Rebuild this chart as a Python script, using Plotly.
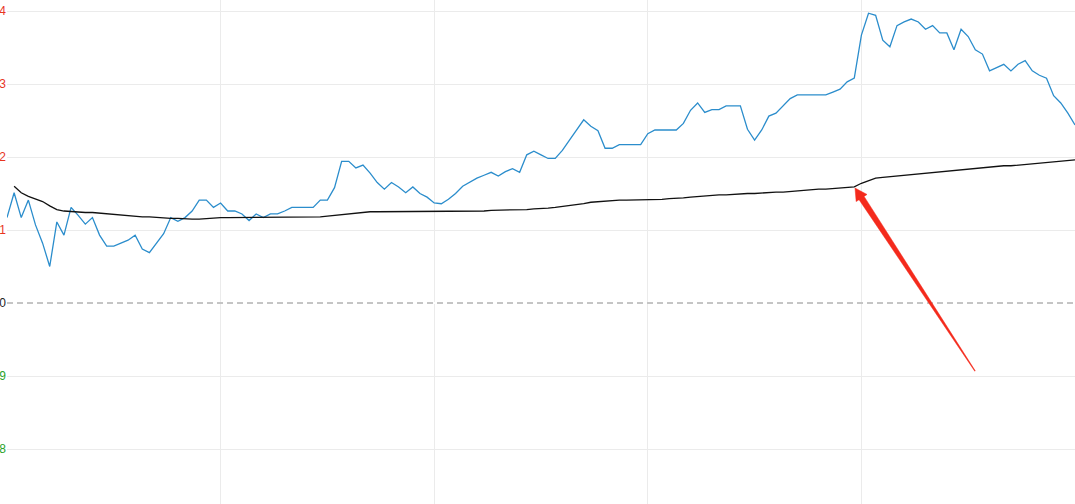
import plotly.graph_objects as go

# ---- data ----
price = [
    10.1117, 10.1151, 10.1117, 10.1141, 10.1107, 10.1082, 10.1050, 10.1111, 10.1093, 10.1131,
    10.1120, 10.1108, 10.1117, 10.1093, 10.1078, 10.1078, 10.1082, 10.1086, 10.1093, 10.1074,
    10.1069, 10.1082, 10.1095, 10.1117, 10.1112, 10.1117, 10.1126, 10.1141, 10.1141, 10.1131,
    10.1137, 10.1126, 10.1126, 10.1122, 10.1113, 10.1122, 10.1117, 10.1122, 10.1122, 10.1126,
    10.1131, 10.1131, 10.1131, 10.1131, 10.1141, 10.1141, 10.1158, 10.1194, 10.1194, 10.1185,
    10.1189, 10.1178, 10.1165, 10.1156, 10.1165, 10.1159, 10.1151, 10.1159, 10.1150, 10.1145,
    10.1137, 10.1136, 10.1142, 10.1150, 10.1160, 10.1166, 10.1171, 10.1175, 10.1179, 10.1174,
    10.1180, 10.1184, 10.1179, 10.1203, 10.1208, 10.1203, 10.1198, 10.1198, 10.1209, 10.1223,
    10.1237, 10.1251, 10.1242, 10.1236, 10.1212, 10.1212, 10.1217, 10.1217, 10.1217, 10.1217,
    10.1232, 10.1237, 10.1237, 10.1237, 10.1237, 10.1246, 10.1264, 10.1274, 10.1261, 10.1265,
    10.1265, 10.1270, 10.1270, 10.1270, 10.1238, 10.1223, 10.1237, 10.1256, 10.1260, 10.1270,
    10.1280, 10.1285, 10.1285, 10.1285, 10.1285, 10.1285, 10.1289, 10.1293, 10.1303, 10.1308,
    10.1367, 10.1397, 10.1394, 10.1360, 10.1351, 10.1380, 10.1385, 10.1389, 10.1385, 10.1375,
    10.1380, 10.1370, 10.1370, 10.1347, 10.1375, 10.1365, 10.1347, 10.1341, 10.1318, 10.1322,
    10.1327, 10.1318, 10.1327, 10.1332, 10.1318, 10.1312, 10.1308, 10.1284, 10.1274, 10.1260,
    10.1244,
]

avg_price = [
    None, 10.1160, 10.1151, 10.1146, 10.1142, 10.1139, 10.1133, 10.1128, 10.1126, 10.1125,
    10.1124, 10.1124, 10.1124, 10.1123, 10.1122, 10.1121, 10.1120, 10.1119, 10.1119, 10.1118,
    10.1118, 10.1117, 10.1117, 10.1116, 10.1116, 10.1115, 10.1115, 10.1115, 10.1116, 10.1116,
    10.1117, 10.1117, 10.1117, 10.1117, 10.1117, 10.1117, 10.1117, 10.1117, 10.1117, 10.1117,
    10.1117, 10.1117, 10.1118, 10.1118, 10.1118, 10.1119, 10.1120, 10.1122, 10.1123, 10.1124,
    10.1124, 10.1125, 10.1125, 10.1125, 10.1125, 10.1125, 10.1125, 10.1126, 10.1126, 10.1126,
    10.1126, 10.1126, 10.1126, 10.1126, 10.1126, 10.1126, 10.1126, 10.1126, 10.1127, 10.1127,
    10.1127, 10.1127, 10.1127, 10.1128, 10.1129, 10.1129, 10.1130, 10.1131, 10.1132, 10.1133,
    10.1134, 10.1136, 10.1138, 10.1139, 10.1140, 10.1140, 10.1141, 10.1141, 10.1141, 10.1142,
    10.1142, 10.1142, 10.1142, 10.1143, 10.1143, 10.1144, 10.1145, 10.1146, 10.1147, 10.1147,
    10.1148, 10.1148, 10.1149, 10.1149, 10.1150, 10.1150, 10.1151, 10.1152, 10.1152, 10.1152,
    10.1153, 10.1154, 10.1155, 10.1155, 10.1156, 10.1156, 10.1157, 10.1157, 10.1158, 10.1159,
    10.1164, 10.1168, 10.1171, 10.1172, 10.1173, 10.1174, 10.1174, 10.1175, 10.1176, 10.1178,
    10.1179, 10.1180, 10.1181, 10.1182, 10.1183, 10.1184, 10.1185, 10.1185, 10.1186, 10.1187,
    10.1188, 10.1188, 10.1189, 10.1190, 10.1190, 10.1191, 10.1192, 10.1193, 10.1194, 10.1195,
    10.1196,
]

minute_index = list(range(len(price)))

prev_close = 10.10
tick_values = [10.14, 10.13, 10.12, 10.11, 10.10, 10.09, 10.08]
tick_labels = ["4", "3", "2", "1", "0", "9", "8"]
tick_colors = ["#e8351f", "#e8351f", "#e8351f", "#e8351f", "#222222", "#2aa32a", "#2aa32a"]

# ---- layout geometry ----
W, H = 1075, 504
ML = 7

fig = go.Figure()
fig.add_trace(go.Scatter(
    x=minute_index, y=price, mode="lines",
    line=dict(color="#2b8dcc", width=1.3), showlegend=False, hoverinfo="skip",
))
fig.add_trace(go.Scatter(
    x=minute_index, y=avg_price, mode="lines",
    line=dict(color="#111111", width=1.3), showlegend=False, hoverinfo="skip",
))

# dashed previous-close line (white underlay hides the grid line)
fig.add_shape(type="line", xref="paper", yref="y", x0=0, x1=1, y0=prev_close, y1=prev_close,
              line=dict(color="white", width=2), layer="above")
fig.add_shape(type="line", xref="paper", yref="y", x0=0, x1=1, y0=prev_close, y1=prev_close,
              line=dict(color="#8a8a8a", width=1, dash="6px,4px"), layer="above")

# red tapering arrow (decoration, pixel geometry -> paper coords)
def to_paper(px, py):
    return (px - ML) / (W - ML), 1 - py / H

tip = (855.0, 188.0)
tail = (975.0, 371.0)
dx, dy = tail[0] - tip[0], tail[1] - tip[1]
L = (dx * dx + dy * dy) ** 0.5
ux, uy = dx / L, dy / L
nx, ny = uy, -ux
base = (tip[0] + 12 * ux, tip[1] + 12 * uy)
pts = [
    tip,
    (base[0] + 6.5 * nx, base[1] + 6.5 * ny),
    (base[0] + 3.0 * nx, base[1] + 3.0 * ny),
    (tail[0] + 0.3 * nx, tail[1] + 0.3 * ny),
    (tail[0] - 0.3 * nx, tail[1] - 0.3 * ny),
    (base[0] - 3.0 * nx, base[1] - 3.0 * ny),
    (base[0] - 6.5 * nx, base[1] - 6.5 * ny),
]
path = ""
for k, (px, py) in enumerate(pts):
    xp, yp = to_paper(px, py)
    path += ("M" if k == 0 else "L") + f"{xp:.5f},{yp:.5f} "
path += "Z"
fig.add_shape(type="path", xref="paper", yref="paper", path=path,
              fillcolor="#f42a1c", line=dict(color="#f42a1c", width=0.5), layer="above")

y_top = prev_close + 0.01 * 303 / 73
y_bot = prev_close - 0.01 * (H - 303) / 73

fig.update_layout(
    width=W, height=H,
    margin=dict(l=ML, r=0, t=0, b=0, autoexpand=False),
    paper_bgcolor="white", plot_bgcolor="white",
    font=dict(family="Liberation Sans, Arial, sans-serif", size=12),
    xaxis=dict(range=[0, len(price) - 1], tickvals=list(range(30, len(price) - 1, 30)),
               showticklabels=False, showgrid=True, gridcolor="#ebebeb", gridwidth=1,
               zeroline=False, showline=False, ticks="", automargin=False),
    yaxis=dict(range=[y_bot, y_top], tickvals=tick_values,
               ticktext=[f"<span style='color:{c}'>{t}</span>" for t, c in zip(tick_labels, tick_colors)],
               showgrid=True, gridcolor="#ebebeb", gridwidth=1, zeroline=False,
               showline=False, ticks="", tickfont=dict(size=12), automargin=False),
)

fig.write_html("out.html", config={"displayModeBar": False, "staticPlot": True})

# remove the browser's default 8px page margin so the figure fills the window
with open("out.html", "r", encoding="utf-8") as f:
    html = f.read()
html = html.replace("<body>", "<body style=\"margin:0;padding:0;overflow:hidden\">", 1)
with open("out.html", "w", encoding="utf-8") as f:
    f.write(html)
